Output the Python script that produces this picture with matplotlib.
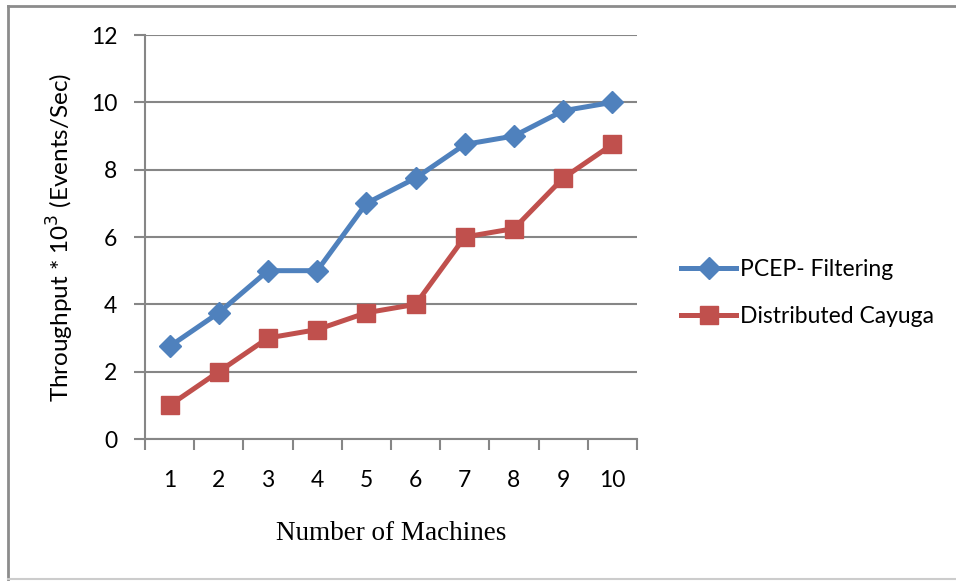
import matplotlib
matplotlib.use("Agg")
import matplotlib.pyplot as plt
from matplotlib.lines import Line2D

machines = [1, 2, 3, 4, 5, 6, 7, 8, 9, 10]
pcep = [2.75, 3.75, 5, 5, 7, 7.75, 8.75, 9, 9.75, 10]
cayuga = [1, 2, 3, 3.25, 3.75, 4, 6, 6.25, 7.75, 8.75]
series_names = ["PCEP- Filtering", "Distributed Cayuga"]
yticks = [0, 2, 4, 6, 8, 10, 12]

W, H = 956, 581
fig = plt.figure(figsize=(W / 100, H / 100), dpi=100)
sans = ["Lato", "DejaVu Sans"]
gray = "#868686"

ax = fig.add_axes([145 / W, 1 - 439 / H, (637 - 145) / W, (439 - 35) / H])
ax.plot(machines, pcep, color="#4F81BD", lw=3.6, marker="D", ms=11,
        label=series_names[0], solid_joinstyle="round")
ax.plot(machines, cayuga, color="#C0504D", lw=3.6, marker="s", ms=13,
        label=series_names[1], solid_joinstyle="round")

ax.set_xlim(0.5, 10.5)
ax.set_ylim(0, 12)
ax.set_yticks(yticks)
ax.set_yticklabels([str(v) for v in yticks], fontfamily=sans, fontsize=16.5)
ax.set_xticks(machines)
ax.set_xticklabels([str(m) for m in machines], fontfamily=sans, fontsize=16.5)
ax.set_xticks([m + 0.5 for m in [0] + machines], minor=True)
ax.tick_params(axis="x", which="major", length=0, pad=22)
ax.tick_params(axis="x", which="minor", length=8, width=1.5, color=gray)
ax.tick_params(axis="y", length=8, width=1.5, color=gray, pad=12)
ax.grid(axis="y", color=gray, lw=1.5)
ax.set_axisbelow(True)
for s in ["top", "right"]:
    ax.spines[s].set_visible(False)
for s in ["left", "bottom"]:
    ax.spines[s].set_color(gray)
    ax.spines[s].set_linewidth(1.5)

fig.text(60 / W, 1 - 237 / H, "Throughput * 10$^3$ (Events/Sec)", rotation=90,
         ha="center", va="center", fontfamily=sans, fontsize=17.5)
fig.text(391 / W, 1 - 534 / H, "Number of Machines", ha="center", va="center",
         fontfamily="Liberation Serif", fontsize=19.5)

handles = [
    Line2D([], [], color="#4F81BD", lw=3.6, marker="D", ms=11),
    Line2D([], [], color="#C0504D", lw=3.6, marker="s", ms=13),
]
fig.legend(handles, series_names, loc="center left",
           bbox_to_anchor=(672 / W, 1 - 293 / H), frameon=False,
           prop={"family": sans, "size": 16.5}, handlelength=2.4,
           handletextpad=0.15, labelspacing=1.1, borderaxespad=0)

# outer chart border
fig.add_artist(Line2D([8 / W, 1], [1 - 6 / H, 1 - 6 / H], color="#8c8c8c", lw=2,
                      transform=fig.transFigure))
fig.add_artist(Line2D([8 / W, 8 / W], [1 - 6 / H, 1 - 579 / H], color="#8c8c8c", lw=2,
                      transform=fig.transFigure))
fig.add_artist(Line2D([8 / W, 1], [1 - 579 / H, 1 - 579 / H], color="#cccccc", lw=1.5,
                      transform=fig.transFigure))

fig.savefig("out.png", dpi=100)
